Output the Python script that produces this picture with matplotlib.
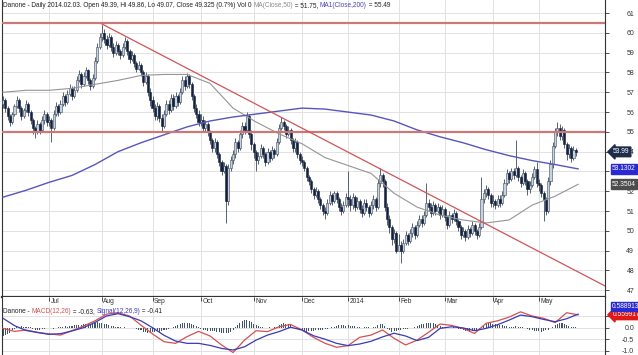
import numpy as np
import matplotlib
matplotlib.use("Agg")
from matplotlib import pyplot as plt
from matplotlib.transforms import blended_transform_factory

plt.rcParams['font.family'] = ['Liberation Sans', 'DejaVu Sans']

# daily candles, Jun 2013 .. May 2014 (open = previous close)
first_open = 56.4

jun_close = [56.6, 56.2, 55.8, 55.5, 55.9, 56.3, 56.6, 56.2, 55.8, 56.1, 56.4, 56.0, 55.6, 55.2, 55.0, 55.4, 55.1, 55.6, 55.9, 55.5]
jun_high = [56.8, 56.7, 56.3, 55.9, 56.0, 56.4, 56.8, 56.7, 56.3, 56.2, 56.6, 56.5, 56.1, 55.7, 55.3, 55.6, 55.5, 55.8, 56.1, 56.0]
jun_low = [56.2, 56.0, 55.6, 55.3, 55.4, 55.8, 56.2, 56.0, 55.6, 55.7, 56.0, 55.8, 55.4, 54.9, 54.7, 54.9, 54.9, 55.0, 55.4, 55.3]

jul_close = [55.6, 55.2, 55.9, 56.3, 56.0, 56.4, 56.8, 56.5, 56.9, 57.2, 56.8, 57.1, 57.6, 57.9, 57.4, 57.8, 58.1, 57.6, 57.3, 57.7, 58.6, 59.3, 59.8]
jul_high = [55.8, 55.7, 56.1, 56.5, 56.4, 56.6, 57.0, 56.9, 57.1, 57.4, 57.3, 57.3, 57.8, 58.1, 58.0, 58.0, 58.3, 58.2, 57.7, 57.9, 58.8, 59.5, 60.0]
jul_low = [55.3, 54.5, 55.1, 55.8, 55.8, 55.9, 56.3, 56.3, 56.4, 56.8, 56.6, 56.7, 57.0, 57.5, 57.2, 57.3, 57.7, 57.4, 57.1, 57.2, 57.6, 58.5, 59.2]

aug_close = [60.0, 59.7, 59.4, 59.8, 59.3, 59.0, 59.4, 59.1, 58.9, 59.3, 59.6, 59.1, 58.7, 58.9, 58.5, 58.2, 58.4, 58.0, 57.5, 57.8, 57.0, 56.6]
aug_high = [60.4, 60.2, 59.9, 60.0, 59.9, 59.5, 59.6, 59.5, 59.2, 59.5, 59.8, 59.7, 59.2, 59.1, 59.0, 58.6, 58.6, 58.5, 58.1, 58.0, 57.9, 57.2]
aug_low = [59.6, 59.5, 59.2, 59.3, 59.1, 58.8, 58.9, 58.9, 58.7, 58.8, 59.2, 58.9, 58.5, 58.6, 58.3, 58.0, 58.1, 57.8, 57.3, 57.4, 56.8, 56.3]

sep_close = [56.2, 55.8, 56.3, 55.7, 55.3, 55.9, 56.4, 56.1, 56.7, 56.3, 56.8, 56.5, 57.0, 57.6, 57.3, 57.8, 57.4, 56.8, 56.2, 55.9, 55.5]
sep_high = [56.8, 56.4, 56.5, 56.4, 55.9, 56.1, 56.6, 56.6, 56.9, 56.9, 57.0, 56.9, 57.2, 57.8, 57.8, 57.95, 57.9, 57.5, 56.9, 56.4, 56.1]
sep_low = [56.0, 55.6, 55.6, 55.5, 55.0, 55.2, 55.8, 55.9, 56.0, 56.1, 56.2, 56.3, 56.4, 56.9, 57.1, 57.2, 57.2, 56.6, 56.0, 55.7, 55.3]

oct_close = [55.6, 55.2, 55.4, 55.0, 54.6, 54.2, 54.5, 53.9, 53.5, 53.0, 53.3, 51.5, 53.2, 53.6, 53.9, 54.5, 54.2, 54.9, 55.3, 55.1, 55.8, 54.9, 54.4]
oct_high = [55.9, 55.8, 55.6, 55.5, 55.1, 54.7, 54.7, 54.6, 54.0, 53.6, 53.5, 53.4, 53.4, 53.8, 54.1, 54.7, 54.6, 55.1, 55.5, 55.5, 56.0, 55.9, 55.1]
oct_low = [55.3, 55.0, 55.0, 54.8, 54.4, 54.0, 54.0, 53.7, 53.3, 52.8, 52.9, 50.4, 51.3, 53.0, 53.4, 53.7, 54.0, 54.1, 54.7, 54.9, 55.0, 54.7, 54.1]

nov_close = [54.0, 53.6, 53.8, 54.2, 53.9, 53.5, 54.0, 53.7, 54.1, 53.9, 54.5, 55.2, 55.5, 55.3, 54.9, 55.1, 54.6, 54.2, 54.5, 53.9, 53.6]
nov_high = [54.5, 54.1, 54.0, 54.4, 54.3, 54.0, 54.2, 54.1, 54.3, 54.2, 54.7, 55.4, 55.75, 55.6, 55.4, 55.3, 55.2, 54.7, 54.7, 54.6, 54.0]
nov_low = [53.7, 53.0, 53.4, 53.7, 53.7, 53.3, 53.4, 53.5, 53.6, 53.7, 53.8, 54.4, 55.1, 55.1, 54.7, 54.8, 54.4, 54.0, 54.0, 53.7, 53.4]

dec_close = [53.5, 53.2, 52.7, 52.5, 52.1, 51.8, 52.0, 51.6, 51.3, 51.0, 50.9, 51.4, 51.8, 51.5, 51.9, 51.6, 51.2, 51.0, 51.3, 51.7]
dec_high = [53.8, 53.6, 53.3, 52.8, 52.6, 52.2, 52.2, 52.1, 51.7, 51.4, 51.2, 51.6, 52.0, 51.9, 52.0, 52.0, 51.7, 51.4, 51.5, 51.9]
dec_low = [53.3, 53.0, 52.5, 52.3, 51.9, 51.6, 51.7, 51.4, 51.1, 50.8, 50.6, 50.8, 51.3, 51.3, 51.4, 51.4, 51.0, 50.8, 50.9, 51.2]

jan_close = [51.6, 51.3, 51.7, 51.2, 51.5, 51.1, 50.9, 51.4, 51.2, 50.9, 51.3, 51.6, 51.2, 52.4, 52.8, 52.5, 51.2, 50.6, 50.2, 49.6, 49.9, 49.0]
jan_high = [53.0, 51.8, 51.9, 51.8, 51.7, 51.6, 51.3, 51.6, 51.6, 51.3, 51.5, 51.8, 51.7, 52.6, 53.2, 52.9, 52.6, 51.4, 50.8, 50.3, 50.1, 50.0]
jan_low = [51.2, 51.0, 51.1, 51.0, 51.1, 50.9, 50.7, 50.8, 51.0, 50.7, 50.8, 51.1, 51.0, 51.1, 52.2, 52.2, 51.0, 50.3, 49.9, 49.3, 49.4, 48.9]

feb_close = [49.3, 49.0, 49.4, 49.8, 49.5, 49.9, 50.2, 49.8, 50.3, 50.6, 50.4, 50.8, 51.4, 51.2, 50.9, 51.3, 51.0, 51.2, 50.8, 51.1]
feb_high = [49.86, 49.5, 49.6, 50.0, 49.9, 50.1, 50.4, 50.3, 50.5, 50.8, 50.8, 51.0, 52.4, 51.6, 51.4, 51.5, 51.4, 51.4, 51.3, 51.3]
feb_low = [49.07, 48.4, 48.9, 49.3, 49.3, 49.4, 49.7, 49.6, 49.7, 50.2, 50.2, 50.3, 50.7, 51.0, 50.7, 50.8, 50.8, 50.9, 50.6, 50.7]

mar_close = [50.7, 50.3, 50.8, 50.6, 50.9, 50.5, 50.2, 49.8, 50.0, 49.7, 50.1, 49.9, 50.3, 50.0, 49.8, 50.2, 51.6, 51.9, 52.1, 51.8, 51.4]
mar_high = [51.2, 50.8, 51.0, 50.9, 51.1, 51.0, 50.6, 50.3, 50.2, 50.1, 50.3, 50.2, 50.5, 50.4, 50.1, 50.4, 52.7, 52.1, 52.3, 52.2, 51.9]
mar_low = [50.5, 50.1, 50.2, 50.4, 50.5, 50.3, 50.0, 49.6, 49.7, 49.5, 49.6, 49.7, 49.8, 49.8, 49.6, 49.7, 50.1, 51.4, 51.7, 51.6, 51.2]

apr_close = [51.5, 51.3, 51.6, 51.4, 51.8, 52.4, 52.9, 52.6, 53.0, 52.8, 53.2, 52.7, 52.4, 52.9, 52.5, 52.1, 52.3, 52.7, 53.1, 52.4]
apr_high = [51.8, 51.6, 51.8, 51.8, 52.0, 52.6, 53.1, 53.0, 53.2, 53.2, 54.6, 53.3, 52.8, 53.1, 53.0, 52.6, 52.5, 52.9, 53.3, 53.5]
apr_low = [51.2, 51.1, 51.2, 51.2, 51.3, 51.7, 52.3, 52.4, 52.5, 52.6, 52.7, 52.5, 52.2, 52.3, 52.3, 51.8, 51.9, 52.2, 52.6, 52.2]

may_close = [52.3, 51.9, 51.6, 51.0, 52.5, 53.4, 54.3, 55.0, 55.2, 54.8, 55.1, 54.4, 53.9, 54.2, 53.7, 54.1, 53.99]
may_high = [52.6, 52.4, 52.0, 51.7, 52.7, 53.6, 54.5, 55.2, 55.5, 55.4, 55.3, 55.2, 54.5, 54.4, 54.3, 54.3, 54.2]
may_low = [52.0, 51.7, 50.5, 50.8, 50.9, 52.3, 53.2, 54.2, 54.8, 54.6, 54.6, 54.2, 53.6, 53.7, 53.5, 53.6, 53.8]

# MACD histogram, daily
jun_hist = [-0.35, -0.32, -0.28, -0.22, -0.12, -0.05, 0.03, 0.05, 0.06, 0.05, 0.04, 0.03, 0.02, -0.04, -0.08, -0.1, -0.08, -0.06, -0.05, -0.03]
jul_hist = [-0.02, 0.0, -0.04, -0.03, 0.01, 0.03, 0.04, 0.06, 0.05, 0.07, 0.09, 0.1, 0.12, 0.11, 0.13, 0.14, 0.16, 0.15, 0.18, 0.2, 0.22, 0.23, 0.21]
aug_hist = [0.2, 0.18, 0.14, 0.12, 0.09, 0.06, 0.04, 0.02, 0.01, -0.01, 0.01, 0.0, -0.02, -0.01, -0.03, -0.05, -0.08, -0.12, -0.17, -0.2, -0.23, -0.22]
sep_hist = [-0.2, -0.18, -0.16, -0.17, -0.15, -0.12, -0.1, -0.06, -0.02, 0.04, 0.09, 0.13, 0.17, 0.2, 0.21, 0.22, 0.2, 0.18, 0.12, 0.06, 0.01]
oct_hist = [-0.05, -0.08, -0.11, -0.13, -0.14, -0.16, -0.15, -0.18, -0.2, -0.22, -0.24, -0.25, -0.22, -0.18, -0.1, 0.02, 0.12, 0.2, 0.27, 0.32, 0.33, 0.3, 0.25]
nov_hist = [0.18, 0.12, 0.06, 0.02, 0.01, -0.01, 0.0, 0.01, -0.01, 0.02, 0.05, 0.1, 0.15, 0.19, 0.18, 0.15, 0.1, 0.04, -0.02, -0.07, -0.1]
dec_hist = [-0.13, -0.16, -0.17, -0.16, -0.15, -0.13, -0.12, -0.1, -0.1, -0.08, -0.06, -0.04, -0.02, 0.02, 0.05, 0.08, 0.1, 0.11, 0.1, 0.09]
jan_hist = [0.1, 0.09, 0.08, 0.06, 0.03, 0.02, 0.0, 0.01, 0.02, 0.01, 0.0, 0.02, 0.05, 0.1, 0.15, 0.14, 0.08, -0.05, -0.12, -0.17, -0.16, -0.14]
feb_hist = [-0.12, -0.1, -0.07, -0.05, -0.04, -0.02, -0.01, 0.02, 0.06, 0.1, 0.14, 0.18, 0.2, 0.22, 0.21, 0.2, 0.17, 0.13, 0.08, 0.04]
mar_hist = [0.02, 0.01, 0.0, -0.01, 0.01, -0.02, -0.04, -0.07, -0.1, -0.13, -0.15, -0.17, -0.16, -0.14, -0.1, -0.05, 0.05, 0.12, 0.17, 0.2, 0.19]
apr_hist = [0.18, 0.16, 0.14, 0.12, 0.1, 0.08, 0.06, 0.05, 0.05, 0.04, 0.06, 0.05, 0.03, 0.02, 0.0, -0.04, -0.08, -0.11, -0.14, -0.15]
may_hist = [-0.16, -0.17, -0.15, -0.12, -0.08, -0.03, 0.05, 0.12, 0.18, 0.22, 0.21, 0.17, 0.12, 0.08, 0.05, 0.03, 0.02]

# moving averages, read every 10 trading days
ma_step = 10
ma50 = [57.0, 57.1, 57.1, 57.2, 57.4, 57.6, 57.85, 57.9, 57.9, 57.45, 56.2, 55.5, 54.9,
        54.4, 53.7, 53.3, 52.9, 51.9, 51.2, 50.8, 50.55, 50.4, 50.55, 51.3, 51.75, 52.3504]
ma200 = [51.7, 52.05, 52.45, 52.8, 53.35, 54.0, 54.45, 54.85, 55.25, 55.55, 55.75, 55.9, 56.05,
         56.2, 56.15, 56.0, 55.85, 55.55, 55.1, 54.75, 54.45, 54.1, 53.8, 53.55, 53.35, 53.1302]

# MACD / signal, read every 5 trading days
macd_step = 5
macd = [-0.03, -0.16, -0.10, -0.20, -0.27, -0.32, -0.13, 0.07, 0.30, 0.59, 0.65, 0.51, 0.11, -0.27,
        -0.61, -0.68, -0.39, -0.16, -0.36, -0.75, -1.08, -0.54, -0.13, -0.17, 0.04, 0.14, -0.10, -0.42,
        -0.68, -0.85, -0.78, -0.42, -0.32, -0.10, -0.46, -0.75, -0.54, -0.20, 0.16, 0.10, -0.03, -0.25,
        0.19, 0.30, 0.46, 0.69, 0.51, 0.41, 0.22, 0.65, 0.559917]
signal = [0.41, 0.09, -0.12, -0.21, -0.29, -0.26, -0.14, 0.00, 0.23, 0.51, 0.61, 0.48, 0.30, 0.00,
          -0.33, -0.58, -0.68, -0.68, -0.77, -0.90, -0.97, -0.83, -0.54, -0.32, -0.17, 0.02, -0.10, -0.35,
          -0.50, -0.68, -0.78, -0.71, -0.59, -0.40, -0.24, -0.36, -0.56, -0.42, -0.03, 0.04, -0.01, -0.13,
          -0.03, 0.13, 0.33, 0.55, 0.48, 0.36, 0.26, 0.39, 0.588913]

# drawn lines
resistance = [60.5, 55.0]
trend_days = [43, 262]
trend_price = [60.45, 47.2]

month_labels = ["Jul", "Aug", "Sep", "Oct", "Nov", "Dec", "2014", "Feb", "Mar", "Apr", "May"]

closes = [jun_close, jul_close, aug_close, sep_close, oct_close, nov_close,
          dec_close, jan_close, feb_close, mar_close, apr_close, may_close]
highs = [jun_high, jul_high, aug_high, sep_high, oct_high, nov_high,
         dec_high, jan_high, feb_high, mar_high, apr_high, may_high]
lows = [jun_low, jul_low, aug_low, sep_low, oct_low, nov_low,
        dec_low, jan_low, feb_low, mar_low, apr_low, may_low]
hists = [jun_hist, jul_hist, aug_hist, sep_hist, oct_hist, nov_hist,
         dec_hist, jan_hist, feb_hist, mar_hist, apr_hist, may_hist]

close = np.array(sum(closes, []))
high = np.array(sum(highs, []))
low = np.array(sum(lows, []))
hist = np.array(sum(hists, []))
opn = np.concatenate([[first_open], close[:-1]])
days = np.arange(len(close))
month_starts = np.cumsum([len(m) for m in closes])[:-1]
ma_days = np.arange(len(ma50)) * ma_step
macd_days = np.arange(len(macd)) * macd_step

INK = '#222222'
GRID = '#e2e2e2'
RED_MACD = '#d45050'
BLUE_SIG = '#3a3ab8'

W, H = 638, 355
fig = plt.figure(figsize=(W / 100, H / 100), dpi=100)
ax = fig.add_axes([2 / W, 58 / H, 603 / W, 297 / H])
mx = fig.add_axes([2 / W, 0, 603 / W, 58 / H], sharex=ax)

# candles
up = close >= opn
body_lo = np.minimum(opn, close)
body_h = np.abs(close - opn)
ax.vlines(days, low, high, color='#3c4a5c', lw=0.6, zorder=2)
ax.bar(days[up], body_h[up], bottom=body_lo[up], width=0.9,
       color='#c8d2de', edgecolor='#3c4a5c', lw=0.4, zorder=3)
ax.bar(days[~up], body_h[~up], bottom=body_lo[~up], width=0.9,
       color='#14223e', edgecolor='#14223e', lw=0.4, zorder=3)

ax.plot(ma_days, ma50, color='#959595', lw=0.8, zorder=4)
ax.plot(ma_days, ma200, color='#5656bc', lw=1.0, zorder=4)
for lvl in resistance:
    ax.axhline(lvl, color='#cc7878', lw=1.6, zorder=5)
ax.plot(trend_days, trend_price, color='#d05555', lw=0.9, zorder=5)

ax.set_xlim(-0.43, 261.7)
ax.set_ylim(46.66, 61.66)
ax.set_xticks(month_starts)
ax.set_yticks(range(47, 62))
ax.grid(True, color=GRID, lw=0.7)
ax.set_axisbelow(True)
ax.tick_params(axis='x', length=0, labelbottom=False)
ax.yaxis.tick_right()
ax.tick_params(axis='y', length=3, width=0.6, pad=18, labelsize=5, colors='#333333')
plt.setp(ax.get_yticklabels(), ha='right')
ax.spines['top'].set_visible(False)
ax.spines['bottom'].set_linewidth(1.6)
for s in ['left', 'right', 'bottom']:
    ax.spines[s].set_color('#333333')

# MACD panel
mx.bar(days, hist, width=0.45, color='#3e5668', zorder=2)
mx.plot(macd_days, macd, color=RED_MACD, lw=0.9, zorder=3)
mx.plot(macd_days, signal, color=BLUE_SIG, lw=0.9, zorder=3)
mx.set_ylim(-1.187, 1.335)
mx.set_yticks([-1.0, -0.5, 0.0, 0.5])
mx.set_yticklabels(['-1.0', '-0.5', '0.0', ''])
mx.grid(True, color=GRID, lw=0.7)
mx.set_axisbelow(True)
mx.yaxis.tick_right()
mx.tick_params(axis='y', length=3, width=0.6, pad=18, labelsize=5, colors='#333333')
plt.setp(mx.get_yticklabels(), ha='right')
mx.tick_params(axis='x', direction='in', top=True, bottom=False, length=3, width=0.6,
               labelbottom=False, colors='#333333')
mx.spines['top'].set_visible(False)
mx.spines['bottom'].set_visible(False)
for s in ['left', 'right']:
    mx.spines[s].set_color('#333333')

tm = blended_transform_factory(mx.transData, mx.transAxes)
for d, name in zip(month_starts, month_labels):
    mx.annotate(name, xy=(d, 0.925), xycoords=tm, xytext=(1, 0), textcoords='offset points',
                fontsize=4.8, color='#333333', va='center', ha='left')


def colored_text(host, x, y, parts, size=4.7):
    t = host.text(x, y, parts[0][0], transform=fig.transFigure, color=parts[0][1],
                  fontsize=size, va='bottom', ha='left', zorder=12)
    for s, c in parts[1:]:
        t = host.annotate(s, xy=(1, 0), xycoords=t, va='bottom', ha='left', color=c,
                          fontsize=size, zorder=12)


colored_text(ax, 3 / W, 1 - 9 / H, [
    ("Danone - Daily 2014.02.03. Open 49.39, Hi 49.86, Lo 49.07, Close 49.325 (0.7%) Vol 0 ", INK),
    ("MA(Close,50)", '#8a8a8a'), (" = 51.75, ", INK),
    ("MA1(Close,200)", '#4646b8'), (" = 55.49", INK)])
colored_text(mx, 3 / W, 1 - 315 / H, [
    ("Danone - ", INK), ("MACD(12,26)", RED_MACD), (" = -0.63, ", INK),
    ("Signal(12,26,9)", BLUE_SIG), (" = -0.41", INK)])

# last value tags on the right
tr = blended_transform_factory(ax.transAxes, ax.transData)
ax.text(1 + 8 / 603, close[-1], f"{close[-1]:.2f}", transform=tr, fontsize=4.8, color='white',
        va='center', ha='left', clip_on=False, zorder=10,
        bbox=dict(boxstyle='larrow,pad=0.2', fc='#1c2b4a', ec='#1c2b4a'))
ax.text(1 + 7 / 603, ma200[-1], f"{ma200[-1]:.4f}", transform=tr, fontsize=4.8, color='white',
        va='center', ha='left', clip_on=False, zorder=10,
        bbox=dict(boxstyle='square,pad=0.2', fc='#2a2ad0', ec='#2a2ad0'))
ax.text(1 + 7 / 603, ma50[-1], f"{ma50[-1]:.4f}", transform=tr, fontsize=4.8, color='white',
        va='center', ha='left', clip_on=False, zorder=10,
        bbox=dict(boxstyle='square,pad=0.2', fc='#4d4d4d', ec='#4d4d4d'))

trm = blended_transform_factory(mx.transAxes, mx.transData)
mx.text(1 + 8 / 603, macd[-1], f"{macd[-1]:.6f}", transform=trm, fontsize=4.8, color='white',
        va='center', ha='left', clip_on=False, zorder=10,
        bbox=dict(boxstyle='larrow,pad=0.2', fc='#e01818', ec='#e01818'))
mx.text(1 + 7 / 603, signal[-1] + 0.33, f"{signal[-1]:.6f}", transform=trm, fontsize=4.8,
        color='white', va='center', ha='left', clip_on=False, zorder=11,
        bbox=dict(boxstyle='square,pad=0.2', fc='#2a2ad0', ec='#2a2ad0'))

fig.savefig("out.png", dpi=100)
